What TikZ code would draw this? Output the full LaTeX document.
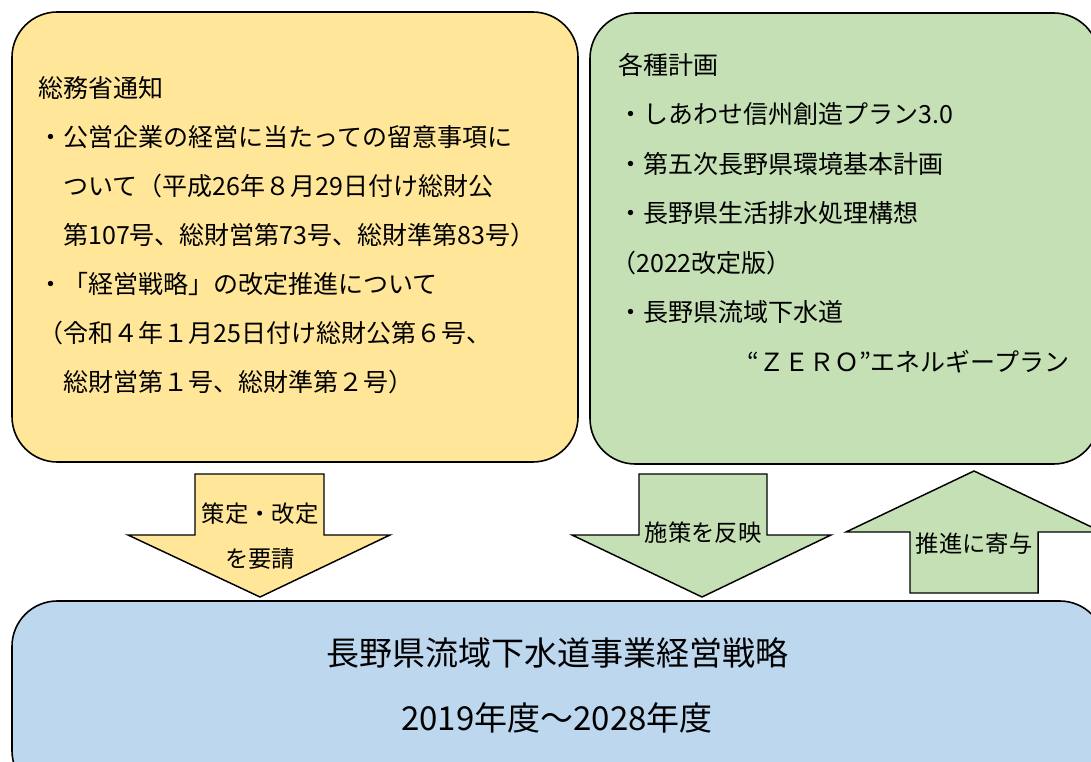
\documentclass[tikz,border=0pt]{standalone}
\usepackage{fontspec}
\newfontfamily\jpfont{Noto Sans CJK JP}
\definecolor{notice}{HTML}{FFE699}
\definecolor{plans}{HTML}{C5E0B4}
\definecolor{strategy}{HTML}{BDD7EE}
\tikzset{
  panel/.style={draw=black, line width=1.2pt, rounded corners=34pt},
  blockarrow/.style={draw=black, line width=1.1pt, line join=miter},
  itemtext/.style={anchor=base west, inner sep=0pt, font=\jpfont\fontsize{18.75}{22}\selectfont},
  arrowlabel/.style={anchor=base, inner sep=0pt, font=\jpfont\fontsize{17.5}{20}\selectfont},
  titletext/.style={anchor=base, inner sep=0pt, font=\jpfont\fontsize{24.75}{28}\selectfont}
}
\begin{document}
\begin{tikzpicture}[x=0.75pt, y=-0.75pt]
    \useasboundingbox (0,0) rectangle (1091,762);
    \clip (0,0) rectangle (1091,762);

    % notice from the ministry
    \draw[panel, fill=notice] (12,12) rectangle (578,462);
    \node[itemtext] (notice0) at (38,98) {総務省通知};
    \node[itemtext] (notice1) at (38,147) {・公営企業の経営に当たっての留意事項に};
    \node[itemtext] (notice2) at (63,196) {ついて（平成26年８月29日付け総財公};
    \node[itemtext] (notice3) at (63,245) {第107号、総財営第73号、総財準第83号）};
    \node[itemtext] (notice4) at (38,294) {・「経営戦略」の改定推進について};
    \node[itemtext] (notice5) at (38,343) {（令和４年１月25日付け総財公第６号、};
    \node[itemtext] (notice6) at (63,392) {総財営第１号、総財準第２号）};

    % related plans
    \draw[panel, fill=plans] (590,13) rectangle (1099,464);
    \node[itemtext] (plan0) at (618,75) {各種計画};
    \node[itemtext] (plan1) at (618,124) {・しあわせ信州創造プラン3.0};
    \node[itemtext] (plan2) at (618,174) {・第五次長野県環境基本計画};
    \node[itemtext] (plan3) at (618,223) {・長野県生活排水処理構想};
    \node[itemtext] (plan4) at (611,273) {（2022改定版）};
    \node[itemtext] (plan5) at (618,322) {・長野県流域下水道};
    \node[itemtext] (plan6) at (747,372) {“ＺＥＲＯ”エネルギープラン};

    % management strategy
    \draw[panel, fill=strategy] (12,601) rectangle (1105,796);
    \node[titletext] (title0) at (557,665) {長野県流域下水道事業経営戦略};
    \node[titletext] (title1) at (557,730) {2019年度～2028年度};

    % arrows
    \draw[blockarrow, fill=notice] (195,474) -- (324,474) -- (324,535) -- (390,535)
      -- (260,597) -- (128,535) -- (195,535) -- cycle;
    \node[arrowlabel] (ask0) at (260,522) {策定・改定};
    \node[arrowlabel] (ask1) at (260,567) {を要請};

    \draw[blockarrow, fill=plans] (639,474) -- (767,474) -- (767,535) -- (831,535)
      -- (702,597) -- (572,535) -- (639,535) -- cycle;
    \node[arrowlabel] (reflect) at (703,541) {施策を反映};

    \draw[blockarrow, fill=plans] (910,593) -- (1038,593) -- (1038,532) -- (1102,532)
      -- (974,471) -- (846,532) -- (910,532) -- cycle;
    \node[arrowlabel] (promote) at (974,552) {推進に寄与};
\end{tikzpicture}
\end{document}
